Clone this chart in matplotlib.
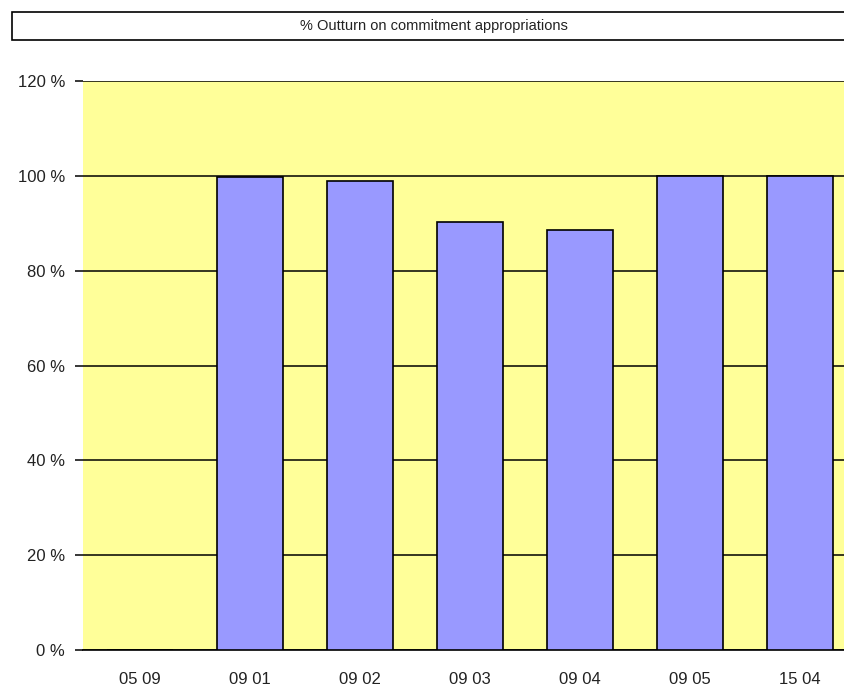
import matplotlib
matplotlib.use("Agg")
import matplotlib.pyplot as plt
from matplotlib.patches import Rectangle

categories = ["05 09", "09 01", "09 02", "09 03", "09 04", "09 05", "15 04"]
values = [0, 99.7, 98.9, 90.3, 88.6, 100, 100]
yticks = [0, 20, 40, 60, 80, 100, 120]
ytick_labels = ["0 %", "20 %", "40 %", "60 %", "80 %", "100 %", "120 %"]
title = "% Outturn on commitment appropriations"

plt.rcParams['font.family'] = ['Liberation Sans', 'DejaVu Sans']

W, H = 845, 687
fig = plt.figure(figsize=(W / 100, H / 100), dpi=100)

left, right, top, bottom = 83, 855, 81, 650
ax = fig.add_axes([left / W, (H - bottom) / H, (right - left) / W, (bottom - top) / H])
ax.set_facecolor("#FFFF99")
ax.set_axisbelow(True)

x = list(range(len(categories)))
ax.bar(x, values, width=0.6, color="#9999FF", edgecolor="black", linewidth=1.2, zorder=3)

ax.set_xlim(-0.515, len(categories) - 0.5)
ax.set_ylim(0, 120)
ax.set_yticks(yticks)
ax.set_yticklabels(ytick_labels, fontsize=12, color="#222222")
ax.set_xticks(x)
ax.set_xticklabels(categories, fontsize=12, color="#222222")
ax.yaxis.grid(True, color="black", linewidth=1.1, zorder=1)
ax.tick_params(axis="y", length=6, width=1.1, pad=7)
ax.tick_params(axis="x", length=0, pad=15.5)
for s in ["top", "left", "right"]:
    ax.spines[s].set_visible(False)
ax.spines["bottom"].set_linewidth(1.2)

# Title box
bx0, bx1, by0, by1 = 12, 856, 12, 40
fig.patches.append(Rectangle((bx0 / W, 1 - by1 / H), (bx1 - bx0) / W, (by1 - by0) / H,
                             transform=fig.transFigure, facecolor="white",
                             edgecolor="black", linewidth=1.2))
fig.text((bx0 + bx1) / 2 / W, 1 - (by0 + by1) / 2 / H, title, ha="center", va="center",
         fontsize=10.5, color="#222222")

fig.savefig("out.png", dpi=100)
